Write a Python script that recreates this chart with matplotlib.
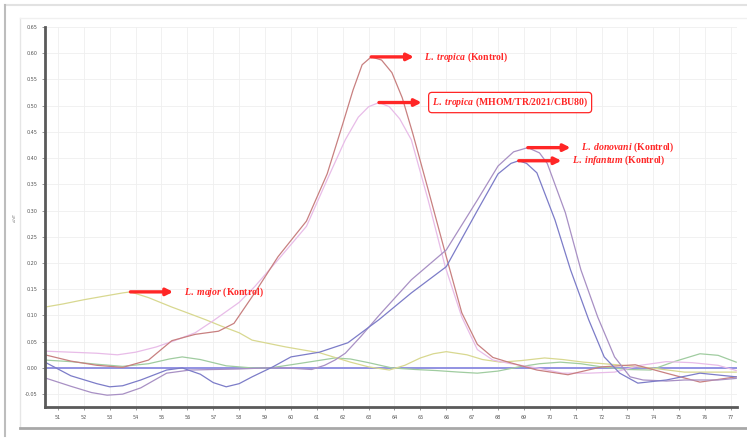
import numpy as np
import matplotlib.pyplot as plt
from matplotlib.lines import Line2D

plt.rcParams['mathtext.fontset'] = 'custom'
plt.rcParams['mathtext.it'] = 'Liberation Serif:italic:bold'
plt.rcParams['mathtext.rm'] = 'Liberation Serif:bold'
plt.rcParams['mathtext.bf'] = 'Liberation Serif:bold'

# melt curve data (temperature, -dF/dT)
trop_x = [50.5, 51.5, 52.5, 53.5, 54.5, 55.4, 56.3, 57.2, 57.8, 58.6, 59.5, 60.6, 61.4, 62.0,
          62.4, 62.75, 63.1, 63.5, 63.9, 64.3, 64.7, 65.3, 66.0, 66.6, 67.2, 67.8, 68.4, 69.5,
          70.7, 72.0, 73.3, 74.5, 75.8, 77.2]
trop_y = [0.025, 0.013, 0.005, 0.001, 0.015, 0.052, 0.064, 0.070, 0.085, 0.143, 0.212, 0.280,
          0.370, 0.465, 0.530, 0.578, 0.593, 0.587, 0.563, 0.515, 0.448, 0.340, 0.212, 0.105,
          0.045, 0.020, 0.011, -0.004, -0.013, 0.002, 0.006, -0.010, -0.027, -0.017]

mhom_x = [50.5, 51.5, 52.5, 53.3, 54.0, 54.8, 55.5, 56.3, 57.0, 58.0, 58.6, 59.5, 60.6, 61.4,
          62.1, 62.6, 63.0, 63.4, 63.8, 64.2, 64.65, 65.3, 65.96, 66.6, 67.2, 67.8, 68.5, 69.5,
          70.5, 71.5, 72.5, 73.5, 74.5, 75.5, 76.5, 77.2]
mhom_y = [0.032, 0.030, 0.028, 0.025, 0.030, 0.040, 0.052, 0.067, 0.090, 0.125, 0.155, 0.206,
          0.270, 0.359, 0.435, 0.478, 0.498, 0.506, 0.498, 0.475, 0.435, 0.320, 0.193, 0.097,
          0.035, 0.015, 0.008, 0.000, -0.010, -0.010, -0.008, 0.005, 0.012, 0.010, 0.005, -0.005]

inf_x = [50.5, 51.5, 52.5, 53.0, 53.5, 54.2, 55.2, 55.8, 56.5, 57.0, 57.5, 58.0, 58.5, 59.3,
         60.0, 61.1, 62.2, 63.4, 64.65, 66.0, 67.2, 68.0, 68.5, 68.8, 69.1, 69.5, 70.2, 70.8,
         71.5, 72.1, 72.7, 73.4, 74.5, 75.8, 77.2]
inf_y = [0.011, -0.015, -0.030, -0.036, -0.034, -0.023, -0.004, 0.000, -0.012, -0.028, -0.036,
         -0.030, -0.017, 0.002, 0.021, 0.030, 0.048, 0.092, 0.143, 0.193, 0.300, 0.370, 0.390,
         0.395, 0.390, 0.372, 0.282, 0.187, 0.092, 0.021, -0.010, -0.029, -0.023, -0.010, -0.017]

don_x = [50.5, 51.5, 52.3, 52.9, 53.5, 54.2, 55.2, 56.1, 57.0, 58.0, 59.0, 59.8, 60.8, 61.3,
         61.7, 62.1, 62.7, 63.4, 64.65, 66.0, 67.2, 68.0, 68.6, 69.15, 69.6, 69.9, 70.6, 71.2,
         71.85, 72.5, 73.1, 73.6, 74.5, 75.2, 76.5, 77.2]
don_y = [-0.019, -0.035, -0.047, -0.052, -0.050, -0.038, -0.010, -0.004, -0.003, -0.002, 0.000,
         0.000, -0.003, 0.005, 0.015, 0.028, 0.060, 0.100, 0.168, 0.225, 0.320, 0.385, 0.412,
         0.420, 0.410, 0.390, 0.296, 0.187, 0.097, 0.021, -0.017, -0.023, -0.025, -0.023,
         -0.023, -0.020]

maj_x = [50.5, 51.2, 52.0, 52.8, 53.5, 53.8, 54.5, 55.4, 56.0, 56.7, 57.3, 58.0, 58.5, 59.2,
         59.8, 60.5, 61.1, 61.7, 62.3, 63.0, 63.8, 64.4, 65.0, 65.5, 66.0, 66.8, 67.4, 68.1,
         68.9, 69.8, 70.5, 71.3, 72.6, 73.9, 75.2, 76.2, 77.2]
maj_y = [0.116, 0.122, 0.130, 0.137, 0.143, 0.145, 0.134, 0.116, 0.105, 0.092, 0.080, 0.067,
         0.053, 0.046, 0.040, 0.034, 0.029, 0.020, 0.011, 0.002, -0.004, 0.005, 0.019, 0.027,
         0.031, 0.025, 0.016, 0.011, 0.014, 0.019, 0.016, 0.011, 0.006, 0.000, -0.008, -0.008,
         -0.008]

grn_x = [50.5, 51.5, 52.5, 53.5, 54.5, 55.3, 55.8, 56.5, 57.5, 58.5, 59.2, 60.4, 61.7, 62.3,
         63.0, 63.9, 64.8, 65.6, 66.5, 67.2, 68.0, 68.8, 69.6, 70.4, 71.2, 72.0, 73.0, 73.9,
         74.8, 75.8, 76.5, 77.2]
grn_y = [0.015, 0.012, 0.007, 0.003, 0.008, 0.017, 0.021, 0.016, 0.004, 0.000, 0.000, 0.009,
         0.019, 0.017, 0.010, 0.000, -0.003, -0.005, -0.008, -0.010, -0.006, 0.002, 0.008,
         0.011, 0.008, 0.002, -0.003, -0.004, 0.012, 0.027, 0.024, 0.011]

x_ticks = list(range(51, 78))
y_ticks = [-0.05, 0.0, 0.05, 0.10, 0.15, 0.20, 0.25, 0.30, 0.35, 0.40, 0.45, 0.50, 0.55, 0.60, 0.65]

fig = plt.figure(figsize=(7.47, 4.38), dpi=100)
ax = fig.add_axes([45 / 747, 1 - 407 / 438, (737 - 45) / 747, (407 - 27) / 438])

ax.grid(True, color='#efefef', lw=0.6)
ax.set_axisbelow(True)

ax.axhline(0, color='#8a8ae0', lw=1.3, zorder=2)
ax.plot(grn_x, grn_y, color='#a0cca0', lw=0.9)
ax.plot(maj_x, maj_y, color='#d8d890', lw=0.9)
ax.plot(mhom_x, mhom_y, color='#e8bce8', lw=0.9)
ax.plot(trop_x, trop_y, color='#c88080', lw=0.9)
ax.plot(don_x, don_y, color='#a890c4', lw=0.9)
ax.plot(inf_x, inf_y, color='#7c7cc8', lw=0.9)

ax.set_xlim(50.5, 77.23)
ax.set_ylim(-0.0745, 0.65)
ax.set_xticks(x_ticks)
ax.set_yticks(y_ticks)
ax.set_yticklabels(['%.2f' % v for v in y_ticks])
ax.tick_params(labelsize=3.5, labelcolor='#555555', length=2, color='#888888', width=0.6)
for s in ['top', 'right']:
    ax.spines[s].set_visible(False)
for s in ['left', 'bottom']:
    ax.spines[s].set_color('#5a5a5a')
    ax.spines[s].set_linewidth(2)
ax.set_ylabel('-d/dT', fontsize=2.5, color='#777777', labelpad=6)

red = '#ff2626'
labels = [
    (trop_x, trop_y, r'$\mathit{L.\ tropica}$ (Kontrol)', False),
    (mhom_x, mhom_y, r'$\mathit{L.\ tropica}$ (MHOM/TR/2021/CBU80)', True),
    (don_x, don_y, r'$\mathit{L.\ donovani}$ (Kontrol)', False),
    (inf_x, inf_y, r'$\mathit{L.\ infantum}$ (Kontrol)', False),
    (maj_x, maj_y, r'$\mathit{L.\ major}$ (Kontrol)', False),
]
for xs, ys, txt, boxed in labels:
    i = int(np.argmax(ys))
    px, py = xs[i], ys[i]
    ax.annotate('', xy=(px + 1.65, py), xytext=(px, py),
                arrowprops=dict(arrowstyle='-|>', color=red, lw=2.4, mutation_scale=10,
                                shrinkA=0, shrinkB=0))
    if boxed:
        ax.text(px + 2.05, py, txt, color=red, fontsize=7, family='Liberation Serif',
                fontweight='bold', va='center', ha='left',
                bbox=dict(boxstyle='round,pad=0.35', fc='white', ec=red, lw=0.9))
    else:
        ax.text(px + 2.05, py, txt, color=red, fontsize=7, family='Liberation Serif',
                fontweight='bold', va='center', ha='left')

# screenshot frame
def fline(x0, y0, x1, y1, c, w):
    fig.add_artist(Line2D([x0 / 747, x1 / 747], [1 - y0 / 438, 1 - y1 / 438],
                          transform=fig.transFigure, color=c, lw=w))

fline(5, 5, 747, 5, '#e2e2e2', 1.5)
fline(5, 5, 5, 436, '#bdbdbd', 1.5)
fline(20, 18, 20, 428, '#e6e6e6', 1.0)
fline(20, 18, 747, 18, '#f0f0f0', 1.0)
fline(20, 428, 747, 428, '#a8a8a8', 2.0)

fig.savefig('out.png', dpi=100, facecolor='white')
